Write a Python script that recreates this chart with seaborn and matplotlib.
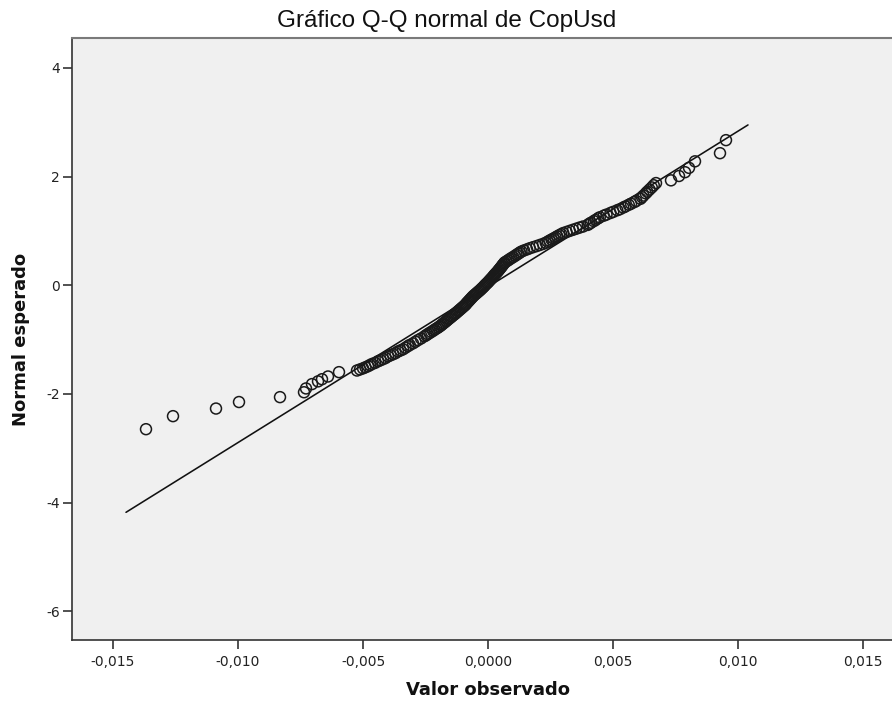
import matplotlib
matplotlib.use("Agg")
import matplotlib.pyplot as plt
import seaborn as sns

# ---- data read from the reference (observed value, expected normal) ----
# lower tail (isolated points)
OBS_TAIL_LOW = [-0.01368, -0.01260, -0.01088, -0.00996, -0.00832]
EXP_TAIL_LOW = [-2.65, -2.41, -2.27, -2.15, -2.06]

# lower cluster
OBS_LOW = [-0.00736, -0.00728, -0.00704, -0.00680, -0.00664, -0.00640, -0.00596,
           -0.00524, -0.00512, -0.00500, -0.00490, -0.00480, -0.00472, -0.00464,
           -0.00452, -0.00440, -0.00430, -0.00420, -0.00410, -0.00400, -0.00390,
           -0.00380, -0.00370, -0.00360, -0.00350, -0.00340, -0.00330, -0.00320,
           -0.00313, -0.00300, -0.00290, -0.00280, -0.00268]
EXP_LOW = [-1.97, -1.90, -1.82, -1.77, -1.73, -1.68, -1.60,
           -1.57, -1.55, -1.53, -1.51, -1.49, -1.47, -1.45,
           -1.43, -1.40, -1.38, -1.36, -1.34, -1.31, -1.29,
           -1.27, -1.25, -1.22, -1.20, -1.18, -1.15, -1.12,
           -1.10, -1.07, -1.04, -1.01, -0.98]

# dense central band
OBS_MID = [-0.00254, -0.00247, -0.00241, -0.00234, -0.00227, -0.00220, -0.00214,
           -0.00207, -0.00200, -0.00194, -0.00188, -0.00183, -0.00178, -0.00172,
           -0.00167, -0.00162, -0.00157, -0.00151, -0.00146, -0.00141, -0.00135,
           -0.00130, -0.00125, -0.00120, -0.00115, -0.00110, -0.00105, -0.00100,
           -0.00095, -0.00090, -0.00087, -0.00083, -0.00079, -0.00075, -0.00071,
           -0.00067, -0.00063, -0.00059, -0.00054, -0.00049, -0.00044, -0.00039,
           -0.00034, -0.00029, -0.00025, -0.00020, -0.00016, -0.00012, -0.00008,
           -0.00003, 0.00001, 0.00005, 0.00009, 0.00013, 0.00017, 0.00021,
           0.00024, 0.00028, 0.00032, 0.00036, 0.00040, 0.00043, 0.00047,
           0.00050, 0.00054, 0.00057, 0.00060, 0.00064, 0.00067, 0.00074,
           0.00081, 0.00087, 0.00094, 0.00101, 0.00108, 0.00114, 0.00121,
           0.00127, 0.00134, 0.00144, 0.00156, 0.00167, 0.00180, 0.00194,
           0.00207, 0.00220, 0.00231, 0.00239, 0.00246, 0.00254, 0.00262,
           0.00270, 0.00277, 0.00285, 0.00293, 0.00301]
EXP_MID = [-0.94, -0.92, -0.90, -0.88, -0.86, -0.84, -0.82,
           -0.80, -0.78, -0.76, -0.74, -0.72, -0.70, -0.68,
           -0.66, -0.64, -0.62, -0.60, -0.58, -0.56, -0.54,
           -0.52, -0.50, -0.48, -0.46, -0.44, -0.42, -0.40,
           -0.38, -0.36, -0.34, -0.32, -0.30, -0.28, -0.26,
           -0.24, -0.22, -0.20, -0.18, -0.16, -0.14, -0.12,
           -0.10, -0.08, -0.06, -0.04, -0.02, 0.00, 0.02,
           0.04, 0.06, 0.08, 0.10, 0.12, 0.14, 0.16,
           0.18, 0.20, 0.22, 0.24, 0.26, 0.28, 0.30,
           0.32, 0.34, 0.36, 0.38, 0.40, 0.42, 0.44,
           0.46, 0.48, 0.50, 0.52, 0.54, 0.56, 0.58,
           0.60, 0.62, 0.64, 0.66, 0.68, 0.70, 0.72,
           0.74, 0.76, 0.78, 0.80, 0.82, 0.84, 0.86,
           0.88, 0.90, 0.92, 0.94, 0.96]

# upper cluster
OBS_HIGH = [0.00314, 0.00327, 0.00340, 0.00353, 0.00366, 0.00380, 0.00399,
            0.00405, 0.00412, 0.00423, 0.00430, 0.00440, 0.00447, 0.00463,
            0.00474, 0.00490, 0.00501, 0.00517, 0.00528, 0.00541, 0.00550,
            0.00563, 0.00572, 0.00585, 0.00593, 0.00610, 0.00616, 0.00622,
            0.00631, 0.00637, 0.00646, 0.00655, 0.00663, 0.00672]
EXP_HIGH = [0.98, 1.00, 1.02, 1.04, 1.06, 1.08, 1.11,
            1.13, 1.15, 1.18, 1.20, 1.23, 1.25, 1.28,
            1.30, 1.33, 1.35, 1.38, 1.40, 1.43, 1.45,
            1.48, 1.50, 1.53, 1.55, 1.59, 1.62, 1.65,
            1.69, 1.72, 1.76, 1.80, 1.84, 1.88]

# upper tail (isolated points)
OBS_TAIL_HIGH = [0.00732, 0.00764, 0.00788, 0.00804, 0.00828, 0.00928, 0.00952]
EXP_TAIL_HIGH = [1.93, 2.01, 2.08, 2.16, 2.28, 2.43, 2.67]

# reference line
LINE_X = [-0.01448, 0.01040]
LINE_Y = [-4.18, 2.95]

X_TICKS = [-0.015, -0.010, -0.005, 0.0, 0.005, 0.010, 0.015]
X_TICK_LABELS = ["-0,015", "-0,010", "-0,005", "0,0000", "0,005", "0,010", "0,015"]
Y_TICKS = [4, 2, 0, -2, -4, -6]
Y_TICK_LABELS = ["4", "2", "0", "-2", "-4", "-6"]

TITLE = "Gráfico Q-Q normal de CopUsd"
X_LABEL = "Valor observado"
Y_LABEL = "Normal esperado"

observed = OBS_TAIL_LOW + OBS_LOW + OBS_MID + OBS_HIGH + OBS_TAIL_HIGH
expected = EXP_TAIL_LOW + EXP_LOW + EXP_MID + EXP_HIGH + EXP_TAIL_HIGH

# ---- figure ----
sns.set_style("ticks")
plt.rcParams["font.family"] = ["DejaVu Sans"]

W, H = 892, 706
fig = plt.figure(figsize=(W / 100, H / 100), dpi=100)
ax = fig.add_axes([72 / W, 1 - 640 / H, (W - 72) / W, (640 - 38) / H])
ax.set_facecolor("#F0F0F0")

sns.lineplot(x=LINE_X, y=LINE_Y, ax=ax, color="#111111", linewidth=1.15)
sns.scatterplot(x=observed, y=expected, ax=ax, s=62, facecolors="none",
                edgecolor="#1a1a1a", linewidth=1.1, zorder=3)

ax.set_xlim(-0.01664, 0.01616)
ax.set_ylim(-6.53, 4.55)

ax.set_xticks(X_TICKS)
ax.set_xticklabels(X_TICK_LABELS)
ax.set_yticks(Y_TICKS)
ax.set_yticklabels(Y_TICK_LABELS)
ax.tick_params(axis="both", which="major", bottom=True, left=True,
               top=False, right=False, direction="out", length=6.5,
               width=1.2, color="#333333", labelcolor="#222222",
               labelsize=10, pad=2)
ax.tick_params(axis="x", pad=4)

for side in ["left", "bottom"]:
    ax.spines[side].set_visible(True)
    ax.spines[side].set_color("#333333")
    ax.spines[side].set_linewidth(1.2)
ax.spines["top"].set_visible(True)
ax.spines["top"].set_color("#7a7a7a")
ax.spines["top"].set_linewidth(1.5)
ax.spines["right"].set_visible(False)
ax.grid(False)

ax.set_xlabel(X_LABEL, fontsize=13, fontweight="bold", color="#111111")
ax.set_ylabel(Y_LABEL, fontsize=13, fontweight="bold", color="#111111")
ax.xaxis.set_label_coords((488 - 72) / (W - 72), (640 - 681) / (640 - 38))
ax.xaxis.label.set_va("top")
ax.yaxis.set_label_coords((30 - 72) / (W - 72), 0.5)

fig.text(447 / W, 1 - 21 / H, TITLE, ha="center", va="center",
         fontsize=17.5, family=["Liberation Sans", "DejaVu Sans"], color="#111111")

fig.savefig("out.png", dpi=100)
